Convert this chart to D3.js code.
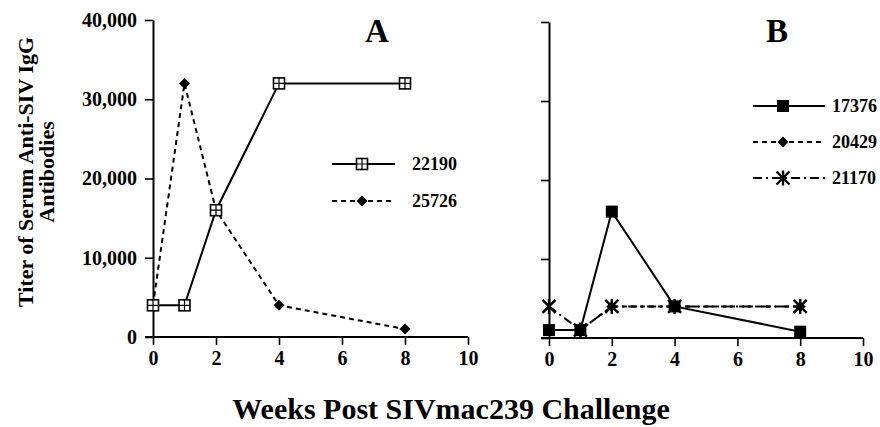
<!DOCTYPE html>
<html>
<head>
<meta charset="utf-8">
<script src="https://cdn.jsdelivr.net/npm/d3@7"></script>
<style>
  body { margin: 0; background: #fff; }
  svg text { font-family: "Liberation Serif", "Times New Roman", serif; font-weight: bold; fill: #000; }
</style>
</head>
<body>
<svg id="chart" width="880" height="427"></svg>
<script>
// data
const weeks = [0, 1, 2, 4, 8]
const xTicks = [0, 2, 4, 6, 8, 10]
const yTicks = [0, 10000, 20000, 30000, 40000]

const titer22190 = [4000, 4000, 16000, 32000, 32000]
const titer25726 = [4000, 32000, 16000, 4000, 1000]
const titer17376 = [1000, 1000, 16000, 4000, 800]
const titer20429 = [1000, 1000, 4000, 4000, 4000]
const titer21170 = [4000, 1000, 4000, 4000, 4000]

const panelA = [
  { name: '22190', values: titer22190, dash: null, marker: 'crossSquare' },
  { name: '25726', values: titer25726, dash: '5,4', marker: 'diamond' }
]
const panelB = [
  { name: '17376', values: titer17376, dash: null, marker: 'square' },
  { name: '20429', values: titer20429, dash: '5,4', marker: 'diamond' },
  { name: '21170', values: titer21170, dash: '9,4,2,4', marker: 'asterisk' }
]

const svg = d3.select('#chart')

function drawMarker(g, type, x, y) {
  if (type === 'crossSquare') {
    const s = 5.5
    g.append('rect').attr('x', x - s).attr('y', y - s).attr('width', 2 * s).attr('height', 2 * s)
      .attr('fill', '#fff').attr('stroke', '#000').attr('stroke-width', 1.6)
    g.append('path').attr('d', `M${x - s},${y}H${x + s}M${x},${y - s}V${y + s}`)
      .attr('stroke', '#000').attr('stroke-width', 1.2)
  } else if (type === 'square') {
    const s = 6
    g.append('rect').attr('x', x - s).attr('y', y - s).attr('width', 2 * s).attr('height', 2 * s)
      .attr('fill', '#000')
  } else if (type === 'diamond') {
    const s = 5.5
    g.append('path').attr('d', `M${x},${y - s}L${x + s},${y}L${x},${y + s}L${x - s},${y}Z`)
      .attr('fill', '#000')
  } else if (type === 'asterisk') {
    const s = 6.5
    g.append('path')
      .attr('d', `M${x - s},${y - s}L${x + s},${y + s}M${x - s},${y + s}L${x + s},${y - s}M${x},${y - s - 1}V${y + s + 1}`)
      .attr('stroke', '#000').attr('stroke-width', 2.4)
  }
}

function drawPanel(opts) {
  const { left, right, top, bottom, series, title, titleX, showYLabels, legend } = opts
  const x = d3.scaleLinear().domain([0, 10]).range([left, right])
  const y = d3.scaleLinear().domain([0, 40000]).range([bottom, top])
  const g = svg.append('g')

  // x axis
  const xAxis = g.append('g').attr('transform', `translate(0,${bottom})`)
    .call(d3.axisBottom(x).tickValues(xTicks).tickSize(8).tickSizeOuter(0).tickPadding(6))
  xAxis.select('.domain').attr('d', `M${left - 8},0H${right}`).attr('stroke-width', 2)
  xAxis.selectAll('.tick line').attr('stroke-width', 1.6)
  xAxis.selectAll('text').attr('font-size', 20)

  // y axis
  const yAxis = g.append('g').attr('transform', `translate(${left},0)`)
    .call(d3.axisLeft(y).tickValues(yTicks).tickSize(8).tickSizeOuter(0).tickPadding(8)
      .tickFormat(showYLabels ? d3.format(',') : () => ''))
  yAxis.select('.domain').attr('stroke-width', 2)
  yAxis.selectAll('.tick line').attr('stroke-width', 1.6)
  yAxis.selectAll('text').attr('font-size', 20)
  svg.selectAll('.domain, .tick line').attr('stroke', '#000')

  const line = d3.line().x((d, i) => x(weeks[i])).y(d => y(d))

  // draw dashed series first so solid ones sit on top
  series.slice().reverse().forEach(s => {
    g.append('path').datum(s.values).attr('d', line)
      .attr('fill', 'none').attr('stroke', '#000').attr('stroke-width', 2)
      .attr('stroke-dasharray', s.dash)
    s.values.forEach((v, i) => drawMarker(g, s.marker, x(weeks[i]), y(v)))
  })

  // panel letter
  g.append('text').attr('x', titleX).attr('y', 42).attr('text-anchor', 'middle')
    .attr('font-size', 33).text(title)

  // legend
  series.forEach((s, i) => {
    const ly = legend.y + i * legend.gap
    g.append('line').attr('x1', legend.x1).attr('x2', legend.x2).attr('y1', ly).attr('y2', ly)
      .attr('stroke', '#000').attr('stroke-width', 2).attr('stroke-dasharray', s.dash)
    drawMarker(g, s.marker, legend.mx, ly)
    g.append('text').attr('x', legend.tx).attr('y', ly + 6).attr('font-size', 18).text(s.name)
  })
}

drawPanel({
  left: 153, right: 468, top: 20, bottom: 337, series: panelA,
  title: 'A', titleX: 377, showYLabels: true,
  legend: { x1: 332, x2: 395, mx: 362, tx: 412, y: 164, gap: 37 }
})

drawPanel({
  left: 549, right: 863, top: 22, bottom: 338, series: panelB,
  title: 'B', titleX: 777, showYLabels: false,
  legend: { x1: 753, x2: 825, mx: 783, tx: 832, y: 106, gap: 36 }
})

// axis titles
svg.append('text').attr('transform', 'translate(33,172) rotate(-90)')
  .attr('text-anchor', 'middle').attr('font-size', 22).text('Titer of Serum Anti-SIV IgG')
svg.append('text').attr('transform', 'translate(54,172) rotate(-90)')
  .attr('text-anchor', 'middle').attr('font-size', 22).text('Antibodies')

svg.append('text').attr('x', 451).attr('y', 419).attr('text-anchor', 'middle')
  .attr('font-size', 30).text('Weeks Post SIVmac239 Challenge')
</script>
</body>
</html>
